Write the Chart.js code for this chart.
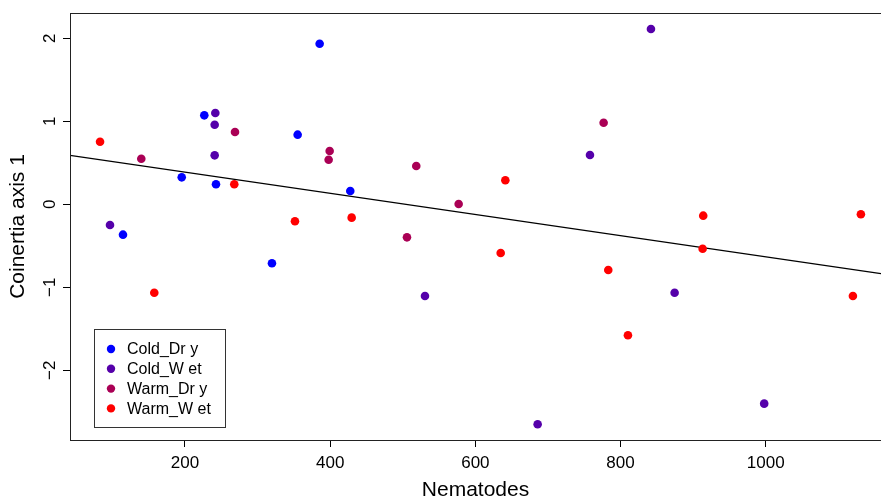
<!DOCTYPE html>
<html>
<head>
<meta charset="utf-8">
<script src="https://cdn.jsdelivr.net/npm/chart.js@4.4.1/dist/chart.umd.min.js"></script>
<style>
  html, body { margin: 0; padding: 0; background: #fff; }
  #wrap { width: 881px; height: 502px; position: relative; }
</style>
</head>
<body>
<div id="wrap"><canvas id="coinertia-chart"></canvas></div>
<script>
// nematode abundance vs. first co-inertia axis, per treatment group
const groupNames = ["Cold_Dr y", "Cold_W et", "Warm_Dr y", "Warm_W et"];
const groupColors = ["#0000FF", "#5500AA", "#AA0055", "#FF0000"];

const coldDryX = [114.6, 195.5, 226.6, 242.7, 319.8, 355.2, 385.5, 427.7];
const coldDryY = [-0.366, 0.325, 1.072, 0.241, -0.711, 0.839, 1.935, 0.160];

const coldWetX = [96.7, 240.9, 240.9, 241.8, 530.6, 685.8, 757.9, 841.9, 874.5, 997.9];
const coldWetY = [-0.249, 0.590, 0.959, 1.100, -1.105, -2.651, 0.594, 2.112, -1.065, -2.402];

const warmDryX = [139.8, 268.9, 397.9, 399.3, 505.8, 518.6, 577.0, 776.7];
const warmDryY = [0.549, 0.871, 0.537, 0.642, -0.398, 0.461, 0.004, 0.983];

const warmWetX = [83.0, 157.7, 267.9, 351.5, 429.6, 634.9, 641.3, 783.1, 810.2, 913.1, 913.9, 1120.1, 1131.1];
const warmWetY = [0.754, -1.065, 0.241, -0.205, -0.161, -0.587, 0.289, -0.792, -1.578, -0.535, -0.137, -1.105, -0.120];

// fitted line, end points at the plot edges
const fitX = [41.6, 1158.8];
const fitY = [0.590, -0.836];

const xTicks = [200, 400, 600, 800, 1000];
const yTicks = [-2, -1, 0, 1, 2];
const xRange = [41.6, 1158.8];
const yRange = [-2.84, 2.305];

const FONT = "'Liberation Sans', Arial, Helvetica, sans-serif";

function toPoints(xs, ys) {
    let pts = [];
    xs.forEach(function (x, i) {
        pts.push({x: x, y: ys[i]});
    });
    return pts;
}

const groupX = [coldDryX, coldWetX, warmDryX, warmWetX];
const groupY = [coldDryY, coldWetY, warmDryY, warmWetY];

let datasets = groupNames.map(function (name, i) {
    return {
        label: name,
        data: toPoints(groupX[i], groupY[i]),
        backgroundColor: groupColors[i],
        borderWidth: 0,
        pointRadius: 4.3,
        pointHoverRadius: 4.3
    };
});

datasets.push({
    label: "fit",
    type: "line",
    data: toPoints(fitX, fitY),
    borderColor: "#000",
    borderWidth: 1.3,
    pointRadius: 0,
    fill: false
});

// box round the plot region plus the legend in the lower left
const plotFrame = {
    id: "plotFrame",
    afterDraw(chart) {
        const ctx = chart.ctx;
        const a = chart.chartArea;
        ctx.save();
        ctx.strokeStyle = "#222";
        ctx.lineWidth = 1;
        ctx.strokeRect(Math.round(a.left) + 0.5, Math.round(a.top) + 0.5,
                       Math.round(a.right - a.left) + 2, Math.round(a.bottom - a.top));

        // legend
        const bx = 94.5, by = 329.5, bw = 131, bh = 98;
        ctx.strokeStyle = "#333";
        ctx.strokeRect(bx, by, bw, bh);
        ctx.font = "16px " + FONT;
        ctx.textBaseline = "middle";
        ctx.textAlign = "left";
        groupNames.forEach(function (name, i) {
            const cy = by + 19.5 + i * 19.8;
            ctx.fillStyle = groupColors[i];
            ctx.beginPath();
            ctx.arc(bx + 16.5, cy, 4.2, 0, Math.PI * 2);
            ctx.fill();
            ctx.fillStyle = "#000";
            ctx.fillText(name, bx + 32.5, cy + 1);
        });
        ctx.restore();
    }
};

function fixPadding(scale) {
    scale.paddingTop = 0;
    scale.paddingBottom = 0;
    scale.paddingLeft = 0;
    scale.paddingRight = 0;
}

new Chart(document.getElementById("coinertia-chart"), {
    type: "scatter",
    data: { datasets: datasets },
    plugins: [plotFrame],
    options: {
        responsive: true,
        maintainAspectRatio: false,
        animation: false,
        layout: { autoPadding: false, padding: { top: 13, right: 0, bottom: 0, left: 0 } },
        plugins: {
            legend: { display: false },
            tooltip: { enabled: false }
        },
        scales: {
            x: {
                type: "linear",
                min: xRange[0],
                max: xRange[1],
                afterBuildTicks: function (scale) {
                    scale.ticks = xTicks.map(function (v) { return {value: v}; });
                },
                afterFit: function (scale) { scale.height = 62; fixPadding(scale); },
                border: { display: false },
                grid: { drawOnChartArea: false, drawTicks: true, tickLength: 7, color: "#000", lineWidth: 1 },
                ticks: {
                    color: "#000",
                    font: { family: FONT, size: 17 },
                    padding: 6,
                    maxRotation: 0,
                    callback: function (v) { return String(v); }
                },
                title: {
                    display: true,
                    text: "Nematodes",
                    color: "#000",
                    font: { family: FONT, size: 21, lineHeight: 1 },
                    padding: { top: 0, bottom: 1 }
                }
            },
            y: {
                type: "linear",
                min: yRange[0],
                max: yRange[1],
                afterBuildTicks: function (scale) {
                    scale.ticks = yTicks.map(function (v) { return {value: v}; });
                },
                afterFit: function (scale) { scale.width = 70; fixPadding(scale); },
                border: { display: false },
                grid: { drawOnChartArea: false, drawTicks: true, tickLength: 7, color: "#000", lineWidth: 1 },
                ticks: {
                    color: "#000",
                    font: { family: FONT, size: 17 },
                    minRotation: 90,
                    maxRotation: 90,
                    crossAlign: "center",
                    padding: 3,
                    callback: function (v) { return String(v).replace("-", "\u2212"); }
                },
                title: {
                    display: true,
                    text: "Coinertia axis 1",
                    color: "#000",
                    font: { family: FONT, size: 21, lineHeight: 1 },
                    padding: { top: 8, bottom: 0 }
                }
            }
        }
    }
});
</script>
</body>
</html>
